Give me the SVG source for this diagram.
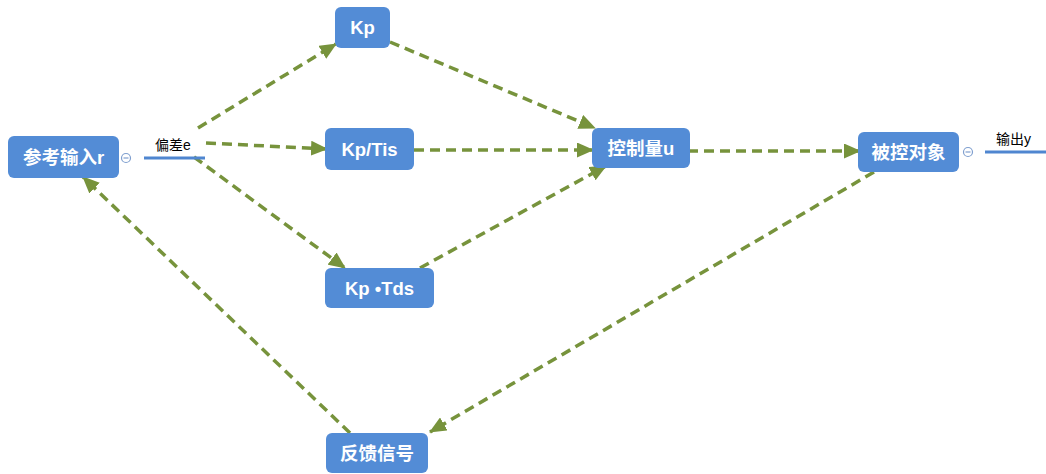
<svg xmlns="http://www.w3.org/2000/svg" width="1046" height="474" viewBox="0 0 1046 474">
<style>
.box{fill:#538cd6;}
.lbl{fill:#fff;font-family:"Liberation Sans","Noto Sans CJK SC",sans-serif;font-weight:bold;font-size:18.5px;text-anchor:middle;}
.sm{fill:#000;font-family:"Liberation Sans","Noto Sans CJK SC",sans-serif;font-size:14px;}
.con{stroke:#77933c;stroke-width:3.5;stroke-dasharray:10 6;fill:none;marker-end:url(#ah);}
.ln{stroke:#4f86d0;stroke-width:3;}
.circ{fill:#fff;stroke:#7f9fcf;stroke-width:1.2;}
.minus{stroke:#7f9fcf;stroke-width:1.2;}
</style>
<defs>
<marker id="ah" markerUnits="userSpaceOnUse" markerWidth="17" markerHeight="15" refX="16" refY="7.5" orient="auto">
<path d="M0,0 L17,7.5 L0,15 Z" fill="#77933c"/>
</marker>
</defs>
<rect width="1046" height="474" fill="#fff"/>
<g id="connectors">
<line class="con" x1="198" y1="128" x2="336" y2="44"/>
<line class="con" x1="206" y1="143" x2="327" y2="149"/>
<line class="con" x1="194" y1="157" x2="345" y2="268"/>
<line class="con" x1="390" y1="42" x2="595" y2="128"/>
<line class="con" x1="414" y1="150" x2="593" y2="150"/>
<line class="con" x1="420" y1="268" x2="606" y2="166"/>
<line class="con" x1="688" y1="151" x2="860" y2="151"/>
<line class="con" x1="874" y1="172" x2="430" y2="432"/>
<line class="con" x1="350" y1="433" x2="83" y2="177"/>
</g>
<g id="ref">
<rect class="box" x="8" y="136" width="111" height="42" rx="6"/>
<text class="lbl" x="63.5" y="164">参考输入r</text>
<circle class="circ" cx="126" cy="158" r="4.5"/>
<line class="minus" x1="123.5" y1="158" x2="128.5" y2="158"/>
<line class="ln" x1="144" y1="158" x2="205" y2="158"/>
<text class="sm" x="155" y="150">偏差e</text>
</g>
<g id="kp">
<rect class="box" x="335" y="7" width="55" height="41" rx="6"/>
<text class="lbl" x="362.5" y="34">Kp</text>
</g>
<g id="kptis">
<rect class="box" x="325" y="128" width="89" height="42" rx="6"/>
<text class="lbl" x="369.5" y="156">Kp/Tis</text>
</g>
<g id="kptds">
<rect class="box" x="325" y="268" width="109" height="40" rx="6"/>
<text class="lbl" x="379.5" y="295">Kp •Tds</text>
</g>
<g id="ctrl">
<rect class="box" x="592" y="128" width="98" height="40" rx="6"/>
<text class="lbl" x="641" y="155">控制量u</text>
</g>
<g id="plant">
<rect class="box" x="858" y="132" width="101" height="40" rx="6"/>
<text class="lbl" x="908.5" y="159">被控对象</text>
<circle class="circ" cx="968" cy="152" r="4.5"/>
<line class="minus" x1="965.5" y1="152" x2="970.5" y2="152"/>
<line class="ln" x1="985" y1="152" x2="1046" y2="152"/>
<text class="sm" x="996" y="144">输出y</text>
</g>
<g id="feedback">
<rect class="box" x="326" y="433" width="102" height="40" rx="6"/>
<text class="lbl" x="377" y="460">反馈信号</text>
</g>
</svg>
